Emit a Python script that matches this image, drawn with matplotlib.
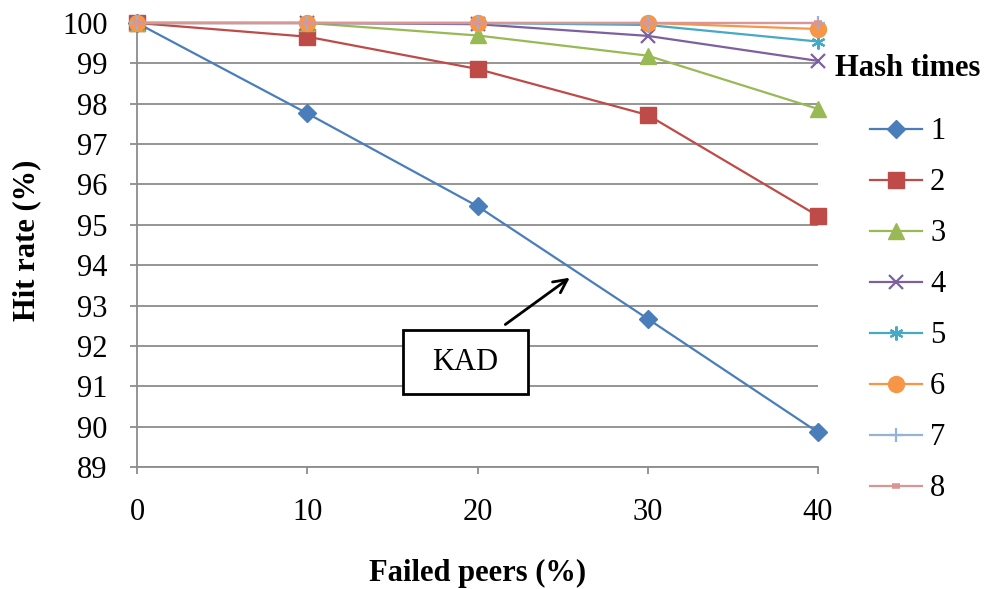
import matplotlib.pyplot as plt
from matplotlib.patches import Rectangle

plt.rcParams['font.family'] = ['Liberation Serif', 'DejaVu Serif']

failed = [0, 10, 20, 30, 40]
hash1 = [100, 97.76, 95.46, 92.67, 89.86]
hash2 = [100, 99.66, 98.86, 97.72, 95.22]
hash3 = [100, 100, 99.69, 99.19, 97.87]
hash4 = [100, 100, 99.97, 99.68, 99.06]
hash5 = [100, 100, 100, 99.95, 99.54]
hash6 = [100, 100, 100, 100, 99.85]
hash7 = [100, 100, 100, 100, 100]
hash8 = [100, 100, 100, 100, 100]
labels = ['1', '2', '3', '4', '5', '6', '7', '8']
yticks = list(range(89, 101))

series = [hash1, hash2, hash3, hash4, hash5, hash6, hash7, hash8]
colors = ['#4A7EBB', '#BE4B48', '#98B954', '#7D60A0', '#46AAC5', '#F79646', '#95B3D7', '#D99694']
markers = ['D', 's', '^', 'x', (6, 2, 0), 'o', '+', '_']
msizes = [9, 11, 11, 10, 10, 11.5, 10, 6]
mews = [1, 1, 1, 1.6, 1.6, 1, 1.6, 4]

fig = plt.figure(figsize=(9.87, 5.89), dpi=100)
ax = fig.add_axes([0.1388, 0.2071, 0.69, 0.7539])

for vals, c, m, ms, mew, lab in zip(series, colors, markers, msizes, mews, labels):
    ax.plot(failed, vals, color=c, lw=1.6, marker=m, markersize=ms,
            markeredgewidth=mew, markerfacecolor=c, markeredgecolor=c,
            label=lab, clip_on=False, zorder=3)

ax.set_xlim(0, 40)
ax.set_ylim(89, 100)
ax.set_xticks(failed)
ax.set_yticks(yticks)
ax.grid(axis='y', color='#8C8C8C', lw=1.3)
ax.set_axisbelow(True)
for s in ['top', 'right']:
    ax.spines[s].set_visible(False)
for s in ['left', 'bottom']:
    ax.spines[s].set_color('#8C8C8C')
    ax.spines[s].set_linewidth(1.3)
ax.tick_params(axis='both', colors='#8C8C8C', length=5, width=1.3, labelcolor='black', labelsize=22)
ax.tick_params(axis='x', pad=17)
ax.tick_params(axis='y', pad=16)

ax.set_xlabel('Failed peers (%)', fontsize=22, fontweight='bold', va='center')
ax.xaxis.set_label_coords(0.5, -0.2387)
ax.set_ylabel('Hit rate (%)', fontsize=22, fontweight='bold', va='center')
ax.yaxis.set_label_coords(-0.1615, 0.511)

# KAD annotation
ax.add_patch(Rectangle((15.62, 90.81), 7.35, 1.58, fill=True, facecolor='white',
                       edgecolor='black', lw=2, clip_on=False, zorder=4))
ax.text(19.3, 91.6, 'KAD', fontsize=22, ha='center', va='center', zorder=5)
ax.annotate('', xy=(25.55, 93.73), xytext=(21.5, 92.49),
            arrowprops=dict(arrowstyle='->', color='black', lw=2, mutation_scale=24), zorder=5)

leg = ax.legend(loc='upper left', bbox_to_anchor=(1.007, 0.957), frameon=False,
                fontsize=22, title='Hash times', handlelength=1.7, handletextpad=0.26,
                labelspacing=0.72, borderaxespad=0)
leg.get_title().set_fontweight('bold')
leg.get_title().set_fontsize(22)
leg._legend_box.sep = 24.5

fig.savefig('out.png', dpi=100)
